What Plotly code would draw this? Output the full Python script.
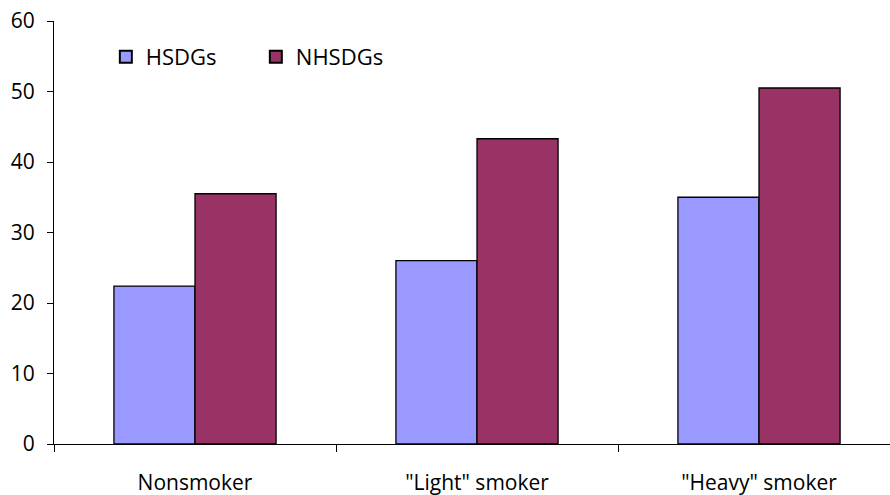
import plotly.graph_objects as go

categories = ["Nonsmoker", "\"Light\" smoker", "\"Heavy\" smoker"]
hsdgs = [22.4, 26.0, 35.0]
nhsdgs = [35.5, 43.3, 50.5]
y_ticks = [0, 10, 20, 30, 40, 50, 60]

FONT = "Open Sans, DejaVu Sans, sans-serif"

fig = go.Figure()
fig.add_trace(go.Bar(name="HSDGs", x=categories, y=hsdgs,
                     marker=dict(color="#9999FF", line=dict(color="black", width=1.3))))
fig.add_trace(go.Bar(name="NHSDGs", x=categories, y=nhsdgs,
                     marker=dict(color="#993366", line=dict(color="black", width=1.3))))

fig.update_layout(
    width=890, height=495,
    margin=dict(l=54, r=0, t=21, b=51, autoexpand=False),
    paper_bgcolor="white", plot_bgcolor="white",
    barmode="group", bargap=0.425, bargroupgap=0,
    font=dict(family=FONT, size=20, color="black"),
    showlegend=True,
    legend=dict(orientation="h", x=0.062, y=0.915, xanchor="left", yanchor="middle",
                font=dict(size=22), entrywidth=105, bgcolor="rgba(0,0,0,0)",
                itemsizing="constant", traceorder="normal"),
    xaxis=dict(type="category", range=[-0.5, 2.4645], showline=True, linecolor="black",
               linewidth=1, ticks="outside", tickson="boundaries", ticklen=7,
               tickcolor="black", showgrid=False, zeroline=False, automargin=False,
               ticklabelstandoff=20, tickfont=dict(size=21)),
    yaxis=dict(range=[0, 60], tickvals=y_ticks, showline=True, linecolor="black",
               linewidth=1, ticks="outside", ticklen=6, tickcolor="black",
               showgrid=False, zeroline=False, automargin=False, ticklabelstandoff=8,
               tickfont=dict(size=21)),
)

fig.write_html("out.html", config={"displayModeBar": False},
               post_script="document.body.style.margin='0';document.body.style.overflow='hidden';")
